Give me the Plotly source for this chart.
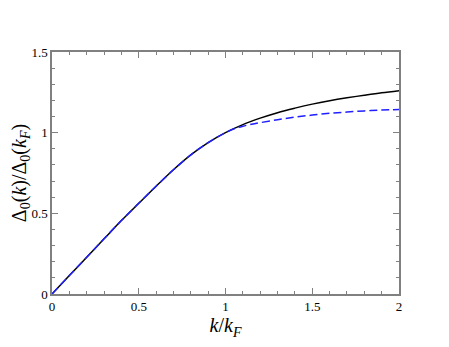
import plotly.graph_objects as go

# gap ratio Delta_0(k)/Delta_0(k_F)
k_common = [0.0, 0.1, 0.2, 0.3, 0.4, 0.5, 0.6, 0.7, 0.8, 0.9, 1.0]
d_common = [0.0, 0.114, 0.228, 0.342, 0.455, 0.562, 0.668, 0.77, 0.862, 0.938, 1.0]

k_solid_tail = [1.1, 1.2, 1.3, 1.4, 1.5, 1.6, 1.7, 1.8, 1.9, 2.0]
d_solid_tail = [1.05, 1.09, 1.124, 1.152, 1.177, 1.198, 1.216, 1.232, 1.247, 1.26]

k_dash_tail = [1.05, 1.1, 1.15, 1.2, 1.3, 1.4, 1.5, 1.6, 1.7, 1.8, 1.9, 2.0]
d_dash_tail = [1.024, 1.04, 1.052, 1.062, 1.08, 1.096, 1.109, 1.12, 1.128, 1.135, 1.14, 1.143]

serif = "Liberation Serif"

fig = go.Figure()
fig.add_trace(go.Scatter(x=k_common + k_solid_tail, y=d_common + d_solid_tail,
                         mode="lines", line=dict(color="black", width=1.5, shape="spline"),
                         showlegend=False))
fig.add_trace(go.Scatter(x=k_common + k_dash_tail, y=d_common + d_dash_tail,
                         mode="lines", line=dict(color="#1f1fff", width=1.5, dash="8px,4px", shape="spline"),
                         showlegend=False))

axis_style = dict(showline=True, linecolor="#808080", linewidth=1.5, mirror="ticks",
                  ticks="inside", ticklen=6, tickcolor="#808080", tickwidth=1.2,
                  showgrid=False, zeroline=False, automargin=False,
                  tickfont=dict(family=serif, size=13, color="black"),
                  minor=dict(ticks="inside", ticklen=3, tickcolor="#808080", dtick=0.1))

fig.update_xaxes(range=[0, 2], dtick=0.5, tickformat="~g",
                 title=dict(text="<i>k</i>/<i>k</i><sub><i>F</i></sub>", standoff=2,
                            font=dict(family=serif, size=20, color="black")),
                 **axis_style)
fig.update_yaxes(range=[0, 1.5], dtick=0.5, tickformat="~g",
                 title=dict(text="Δ<sub>0</sub>(<i>k</i>)/Δ<sub>0</sub>(<i>k</i><sub><i>F</i></sub>)", standoff=2,
                            font=dict(family=serif, size=20, color="black")),
                 **axis_style)

# the page adds an 8px body margin, so the figure margins are shifted to compensate
fig.update_layout(width=449, height=347, margin=dict(l=44, r=58, t=44, b=61),
                  plot_bgcolor="white", paper_bgcolor="white")

fig.write_html("out.html")
